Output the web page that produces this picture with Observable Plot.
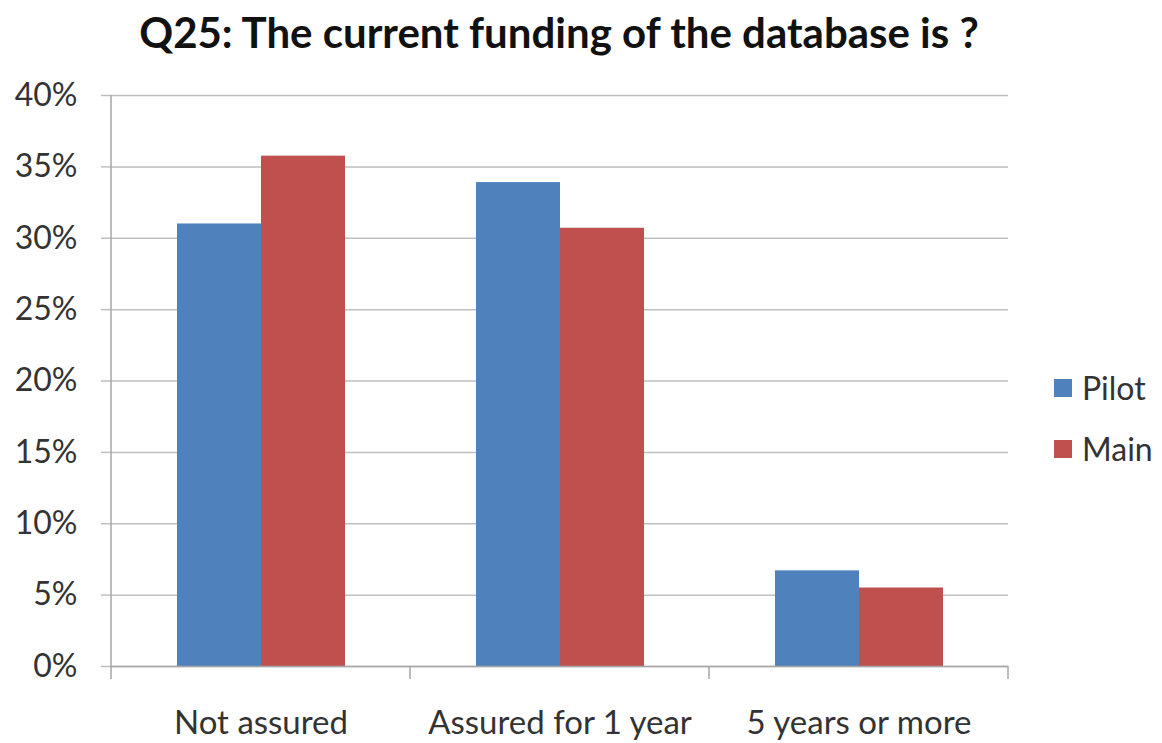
<!DOCTYPE html>
<html>
<head>
<meta charset="utf-8">
<script src="https://cdn.jsdelivr.net/npm/d3@7"></script>
<script src="https://cdn.jsdelivr.net/npm/@observablehq/plot@0.6"></script>
<style>
  html, body { margin: 0; padding: 0; background: #fff; }
  #wrap { position: relative; width: 1162px; height: 743px; overflow: hidden; font-family: Lato, "Open Sans", sans-serif; }
  #title { position: absolute; left: 110px; width: 898px; top: 7px; text-align: center; font-weight: bold; font-size: 42px; line-height: 1.2; color: #111; white-space: nowrap; }
  #chart { position: absolute; left: 0; top: 0; }
  .leg { position: absolute; left: 1054px; display: flex; align-items: center; font-size: 32px; color: #333; }
  .sw { width: 18px; height: 18px; margin-right: 10px; }
</style>
</head>
<body>
<div id="wrap">
  <div id="chart"></div>
  <div id="title">Q25: The current funding of the database is ?</div>
  <div id="legend"></div>
</div>
<script>
const categories = ["Not assured", "Assured for 1 year", "5 years or more"];
const series = ["Pilot", "Main"];
const pilotValues = [31.0, 33.9, 6.7];
const mainValues = [35.75, 30.7, 5.5];
const yTicks = [0, 5, 10, 15, 20, 25, 30, 35, 40];
const seriesColors = ["#4F81BD", "#C0504D"];

const data = categories.flatMap((c, i) => [
  {category: c, series: "Pilot", value: pilotValues[i]},
  {category: c, series: "Main", value: mainValues[i]}
]);

const plot = Plot.plot({
  width: 1162,
  height: 743,
  marginTop: 95,
  marginBottom: 77,
  marginLeft: 110,
  marginRight: 154,
  style: {fontFamily: "Lato, 'Open Sans', sans-serif", fontSize: "32px", color: "#333", background: "white", overflow: "visible"},
  fx: {domain: categories, padding: 0, label: null},
  x: {domain: series, paddingInner: 0, paddingOuter: 0.768, axis: null},
  y: {domain: [0, 40], label: null},
  color: {domain: series, range: seriesColors},
  marks: [
    Plot.gridY(yTicks, {stroke: "#BFBFBF", strokeOpacity: 1, strokeWidth: 1.5}),
    Plot.axisY(yTicks, {tickFormat: d => d + "%", tickSize: 10, tickPadding: 24, stroke: "#BFBFBF", strokeWidth: 1.5, label: null, fontSize: 32}),
    Plot.barY(data, {fx: "category", x: "series", y: "value", fill: "series"}),
    Plot.ruleY([0], {stroke: "#A6A6A6", strokeWidth: 1.5}),
    Plot.axisFx({anchor: "bottom", tickSize: 0, tickPadding: 44, label: null, fontSize: 33})
  ]
});
document.getElementById("chart").appendChild(plot);

// axis line and category boundary ticks from the library's scales
const fx = plot.scale("fx");
const y = plot.scale("y");
const svg = d3.select(plot);
const g = svg.append("g").attr("stroke", "#A6A6A6").attr("stroke-width", 1.5);
const x0 = fx.apply(categories[0]);
g.append("line").attr("x1", x0).attr("x2", x0).attr("y1", y.apply(40)).attr("y2", y.apply(0));
const bounds = categories.map(c => fx.apply(c)).concat([fx.apply(categories[categories.length - 1]) + fx.bandwidth]);
bounds.forEach(b => {
  g.append("line").attr("x1", b).attr("x2", b).attr("y1", y.apply(0)).attr("y2", y.apply(0) + 13);
});

// legend
const legend = document.getElementById("legend");
const legendTops = [368, 429];
series.forEach((s, i) => {
  const d = document.createElement("div");
  d.className = "leg";
  d.style.top = legendTops[i] + "px";
  d.innerHTML = `<div class="sw" style="background:${seriesColors[i]}"></div><span>${s}</span>`;
  legend.appendChild(d);
});
</script>
</body>
</html>
